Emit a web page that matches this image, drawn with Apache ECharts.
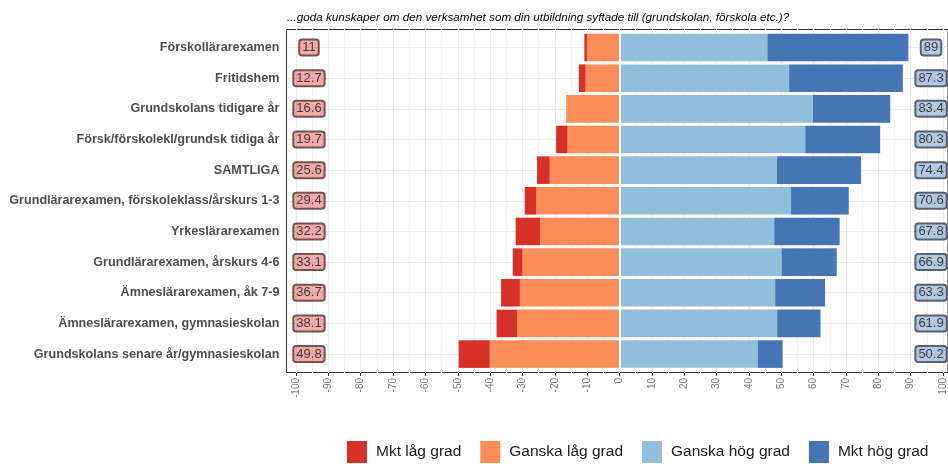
<!DOCTYPE html>
<html>
<head>
<meta charset="utf-8">
<script src="https://cdn.jsdelivr.net/npm/echarts@6/dist/echarts.min.js"></script>
<style>
  html, body { margin: 0; padding: 0; background: #fff; }
  #chart { width: 948px; height: 464px; }
</style>
</head>
<body>
<div id="chart"></div>
<script>
// kategorier, uppifrån och ned
const categories = [
  'Förskollärarexamen',
  'Fritidshem',
  'Grundskolans tidigare år',
  'Försk/förskolekl/grundsk tidiga år',
  'SAMTLIGA',
  'Grundlärarexamen, förskoleklass/årskurs 1-3',
  'Yrkeslärarexamen',
  'Grundlärarexamen, årskurs 4-6',
  'Ämneslärarexamen, åk 7-9',
  'Ämneslärarexamen, gymnasieskolan',
  'Grundskolans senare år/gymnasieskolan'
]
const mktLag = [0.8, 2.1, 0, 3.5, 3.9, 3.6, 7.5, 3.0, 5.8, 6.4, 9.6]
const ganskaLag = [10.2, 10.6, 16.6, 16.2, 21.7, 25.8, 24.7, 30.1, 30.9, 31.7, 40.2]
const ganskaHog = [45.5, 52.2, 59.5, 57.2, 48.4, 52.8, 47.6, 49.9, 47.9, 48.5, 42.5]
const mktHog = [43.5, 35.1, 23.9, 23.1, 26.0, 17.8, 20.2, 17.0, 15.4, 13.4, 7.7]
const lagTotal = [11, 12.7, 16.6, 19.7, 25.6, 29.4, 32.2, 33.1, 36.7, 38.1, 49.8]
const hogTotal = [89, 87.3, 83.4, 80.3, 74.4, 70.6, 67.8, 66.9, 63.3, 61.9, 50.2]
const xTicks = [-100, 100, 10]

const font = "'Liberation Sans', Arial, sans-serif"
const labelX = 96
const colors = {
  mktLag: '#D73027',
  ganskaLag: '#FC8D59',
  ganskaHog: '#91BFDB',
  mktHog: '#4575B4'
}

const chart = echarts.init(document.getElementById('chart'))

function barSeries(name, data, color, neg) {
  return {
    name: name,
    type: 'bar',
    stack: 'total',
    xAxisIndex: 0,
    yAxisIndex: 0,
    barCategoryGap: '10%',
    itemStyle: { color: color },
    data: neg ? data.map(v => -v) : data,
    z: 3
  }
}

function boxLabels(values, x, fill) {
  return {
    type: 'scatter',
    xAxisIndex: 0,
    yAxisIndex: 0,
    symbolSize: 0,
    silent: true,
    data: categories.map((c, i) => [x, c, values[i]]),
    label: {
      show: true,
      position: 'inside',
      formatter: p => String(p.value[2]),
      fontFamily: font,
      fontSize: 13,
      color: '#1a1a1a',
      backgroundColor: fill,
      borderColor: '#333',
      borderWidth: 1,
      borderRadius: 3,
      padding: [2, 3, 1, 3]
    },
    z: 5
  }
}

const s1 = barSeries('Ganska låg grad', ganskaLag, colors.ganskaLag, true)
s1.markLine = {
  silent: true,
  symbol: 'none',
  label: { show: false },
  lineStyle: { color: '#fff', width: 2, type: 'solid' },
  data: [{ xAxis: 0 }]
}

chart.setOption({
  animation: false,
  title: {
    text: '...goda kunskaper om den verksamhet som din utbildning syftade till (grundskolan, förskola etc.)?',
    left: 282,
    top: 7,
    textStyle: {
      fontFamily: font,
      fontStyle: 'italic',
      fontWeight: 'normal',
      fontSize: 11.7,
      color: '#000'
    }
  },
  legend: {
    data: ['Mkt låg grad', 'Ganska låg grad', 'Ganska hög grad', 'Mkt hög grad'],
    left: 347,
    top: 441,
    padding: 0,
    icon: 'rect',
    itemWidth: 20,
    itemHeight: 22,
    itemGap: 19,
    textStyle: {
      fontFamily: font,
      fontSize: 15.5,
      color: '#1a1a1a',
      padding: [0, 0, 0, 4]
    }
  },
  grid: [
    // staplar
    { left: 296, width: 648, top: 32.2, height: 337.2 },
    // horisontella rutlinjer
    { left: 287, width: 680, top: 47.5, height: 306.5 },
    // vertikala rutlinjer + x-axel
    { left: 296, width: 648, top: 29, height: 344 },
    // ram
    { left: 286.5, width: 700, top: 29.5, height: 343, show: true, borderColor: '#333', borderWidth: 1 }
  ],
  xAxis: [
    { gridIndex: 0, type: 'value', min: xTicks[0], max: xTicks[1], interval: xTicks[2], show: false },
    { gridIndex: 1, type: 'value', show: false },
    {
      gridIndex: 2,
      type: 'value',
      min: xTicks[0],
      max: xTicks[1],
      interval: xTicks[2],
      axisLine: { show: false },
      axisTick: { show: true, length: 3, lineStyle: { color: '#333' } },
      axisLabel: {
        rotate: 90,
        margin: 5,
        fontFamily: font,
        fontSize: 10,
        color: '#777'
      },
      splitLine: { show: true, lineStyle: { color: '#EBEBEB', width: 1 } },
      minorTick: { show: false, splitNumber: 2 },
      minorSplitLine: { show: true, lineStyle: { color: '#F4F4F4', width: 1 } }
    },
    { gridIndex: 3, type: 'value', show: false }
  ],
  yAxis: [
    {
      gridIndex: 0,
      type: 'category',
      inverse: true,
      data: categories,
      offset: 9.5,
      axisLine: { show: false },
      axisTick: { show: true, length: 4, alignWithLabel: true, lineStyle: { color: '#333' } },
      axisLabel: {
        margin: 7,
        fontFamily: font,
        fontSize: 12.6,
        fontWeight: 'bold',
        color: '#4D4D4D'
      },
      splitLine: { show: false }
    },
    {
      gridIndex: 1,
      type: 'category',
      inverse: true,
      boundaryGap: false,
      data: categories,
      axisLine: { show: false },
      axisTick: { show: false },
      axisLabel: { show: false },
      splitLine: { show: true, lineStyle: { color: '#EBEBEB', width: 1 } }
    },
    { gridIndex: 2, type: 'value', show: false },
    { gridIndex: 3, type: 'value', show: false }
  ],
  series: [
    s1,
    barSeries('Mkt låg grad', mktLag, colors.mktLag, true),
    barSeries('Ganska hög grad', ganskaHog, colors.ganskaHog, false),
    barSeries('Mkt hög grad', mktHog, colors.mktHog, false),
    boxLabels(lagTotal, -labelX, 'rgba(215, 48, 39, 0.5)'),
    boxLabels(hogTotal, labelX, 'rgba(69, 117, 180, 0.5)')
  ]
})
</script>
</body>
</html>
